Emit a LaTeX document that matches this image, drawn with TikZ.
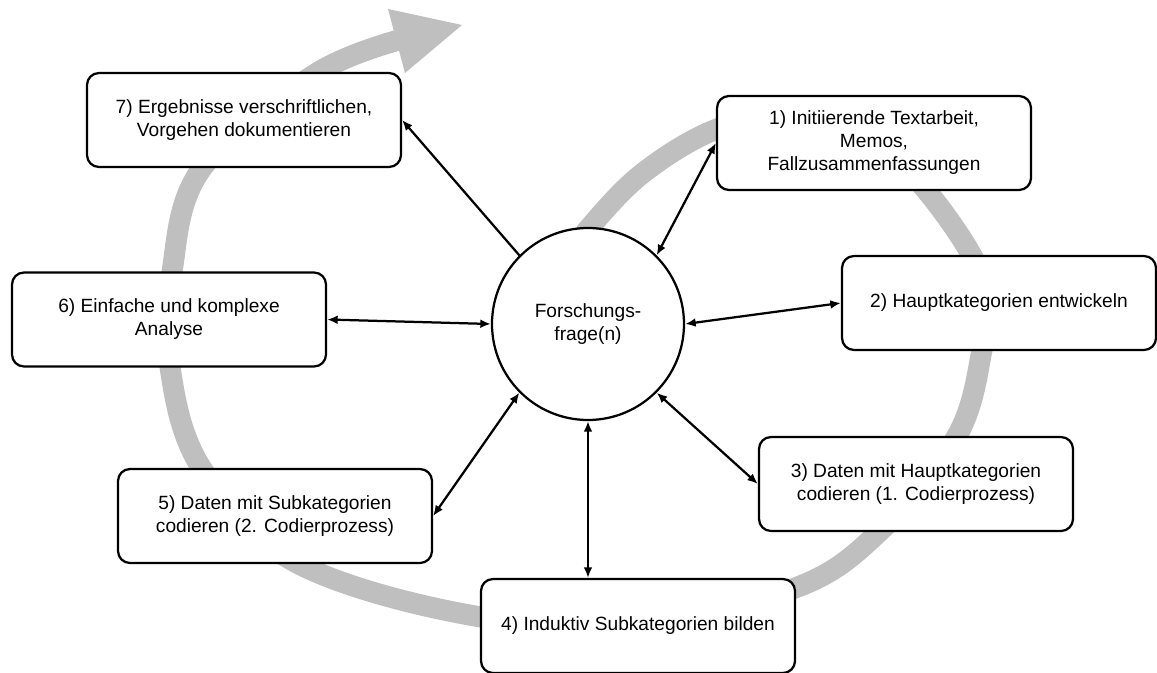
\documentclass[tikz,border=0pt]{standalone}
\usepackage{fontspec}
\setmainfont{Liberation Sans}
\usetikzlibrary{arrows.meta}
\definecolor{ringgray}{RGB}{191,191,191}

\begin{document}
\begin{tikzpicture}[
    stage/.style={draw, fill=white, rounded corners=0.24cm, line width=0.045cm,
        minimum width=6.28cm, minimum height=1.88cm, inner sep=0pt,
        align=center, font=\fontsize{10.9}{13.1}\selectfont},
    hub/.style={draw, circle, fill=white, line width=0.045cm,
        minimum size=3.84cm, inner sep=0pt,
        align=center, font=\fontsize{10.9}{13.1}\selectfont},
    link/.style={line width=0.045cm,
        {Latex[length=6pt,width=5pt]}-{Latex[length=6pt,width=5pt]}},
    onelink/.style={line width=0.045cm, -{Latex[length=6pt,width=5pt]}}
    ]
    \useasboundingbox (0,0) rectangle (23.14,13.44);

    % grey cycle behind everything
    \draw[ringgray, line width=0.42cm] plot[smooth, tension=0.6] coordinates {
        (11.60,8.54) (11.80,8.90) (12.86,9.98) (14.34,10.86) (16.00,11.18)
        (17.50,10.64) (18.52,9.64) (19.44,8.32) (19.70,7.44) (19.64,6.44)
        (19.14,4.72) (17.60,2.82) (15.90,1.68) (12.80,1.04) (9.62,1.10)
        (5.94,2.18) (4.04,4.06) (3.40,6.10) (3.44,8.00) (4.04,10.08)
        (6.34,11.98) (8.20,12.70)};
    \fill[ringgray] (7.76,13.26) -- (9.24,12.94) -- (8.10,11.98) -- cycle;

    \node[hub] (frage) at (11.76,6.96) {Forschungs-\\frage(n)};

    \node[stage] (b1) at (17.48,10.58) {1) Initiierende Textarbeit,\\Memos,\\Fallzusammenfassungen};
    \node[stage] (b2) at (19.98,7.38) {2) Hauptkategorien entwickeln};
    \node[stage] (b3) at (18.32,3.76) {3) Daten mit Hauptkategorien\\codieren (1. Codierprozess)};
    \node[stage] (b4) at (12.76,0.92) {4) Induktiv Subkategorien bilden};
    \node[stage] (b5) at (5.50,3.12) {5) Daten mit Subkategorien\\codieren (2. Codierprozess)};
    \node[stage] (b6) at (3.38,7.05) {6) Einfache und komplexe\\Analyse};
    \node[stage] (b7) at (4.88,11.04) {7) Ergebnisse verschriftlichen,\\Vorgehen dokumentieren};

    \draw[link] (frage.45) -- (b1.west);
    \draw[link] (frage.0) -- (b2.west);
    \draw[link] (frage.-45) -- (b3.west);
    \draw[link] (frage.south) -- (frage.south |- b4.north);
    \draw[link] (frage.-135) -- (b5.east);
    \draw[link] (frage.180) -- (b6.east);
    \draw[onelink] (frage.135) -- (b7.east);
\end{tikzpicture}
\end{document}
